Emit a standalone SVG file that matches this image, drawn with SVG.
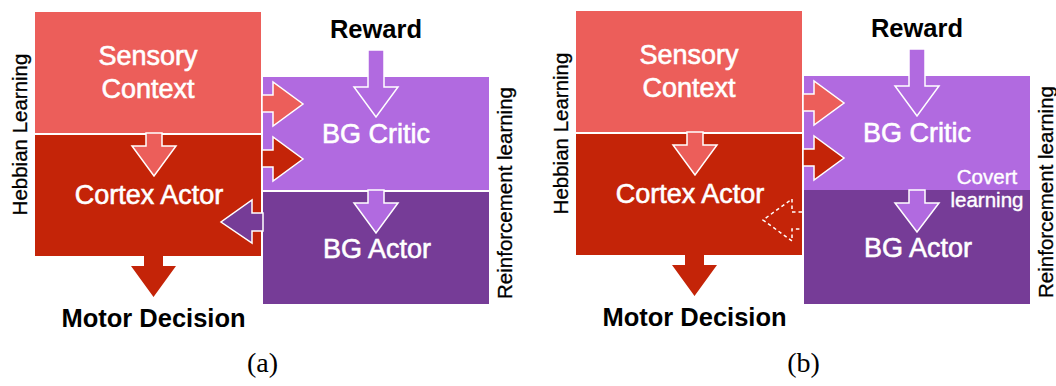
<svg xmlns="http://www.w3.org/2000/svg" width="1056" height="386" viewBox="0 0 1056 386">
<style>
.sen{fill:#EC5E5A}
.cor{fill:#C42408}
.cri{fill:#B16AE0}
.act{fill:#763C97}
.arr{stroke:#FFFFFF;stroke-width:1.5;stroke-linejoin:miter}
.dash{fill:none;stroke:#FFFFFF;stroke-width:1.5;stroke-dasharray:3.5,3}
.box{font-family:"Liberation Sans",Arial,sans-serif;font-size:27px;fill:#FFFFFF;stroke:#FFFFFF;stroke-width:0.6;text-anchor:middle}
.lbl{font-family:"Liberation Sans",Arial,sans-serif;font-size:25.5px;font-weight:bold;fill:#000000;text-anchor:middle}
.side{font-family:"Liberation Sans",Arial,sans-serif;font-size:20.5px;fill:#000000;stroke:#000000;stroke-width:0.3;text-anchor:middle}
.cov{font-family:"Liberation Sans",Arial,sans-serif;font-size:20.5px;fill:#FFFFFF;stroke:#FFFFFF;stroke-width:0.4;text-anchor:middle}
.cap{font-family:"Liberation Serif","Times New Roman",serif;font-size:28px;fill:#000000;text-anchor:middle}
</style>
<rect width="1056" height="386" fill="#FFFFFF"/>

<!-- Panel (a) -->
<g id="panel-a">
  <g id="a-sensory">
    <rect class="sen" x="35" y="12" width="226" height="121"/>
    <text class="box" x="148" y="65">Sensory</text>
    <text class="box" x="148" y="98">Context</text>
  </g>
  <g id="a-cortex">
    <rect class="cor" x="35" y="135" width="226" height="121"/>
    <text class="box" x="149" y="204">Cortex Actor</text>
  </g>
  <g id="a-critic">
    <rect class="cri" x="263" y="77" width="226" height="113"/>
    <text class="box" x="376" y="143">BG Critic</text>
  </g>
  <g id="a-actor">
    <rect class="act" x="263" y="192" width="226" height="112"/>
  </g>
  <g id="a-connectors">
    <polygon class="sen arr" points="262,95 273,95 273,82 303,104 273,126 273,112 262,112"/>
    <polygon class="cor arr" points="262,150 273,150 273,137 303,159 273,181 273,167 262,167"/>
    <polygon class="act arr" points="263,213 252,213 252,200 221,222 252,243 252,231 263,231"/>
    <polygon class="sen arr" points="146,133 146,146 132,146 154,176 176,146 162,146 162,133"/>
    <polygon class="cri arr" points="368,190 368,203 354,203 376,233 398,203 384,203 384,190"/>
    <polygon class="cri arr" points="368,50 368,87 354,87 376,117 398,87 384,87 384,50"/>
    <polygon class="cor" points="144,256 144,266 131,266 153.5,297 176,266 163,266 163,256"/>
  </g>
  <text class="box" x="377" y="258">BG Actor</text>
  <g id="a-reward"><text class="lbl" x="376" y="38">Reward</text></g>
  <g id="a-motor"><text class="lbl" x="153.5" y="327">Motor Decision</text></g>
  <text class="side" transform="translate(27,134.5) rotate(-90)">Hebbian Learning</text>
  <text class="side" transform="translate(512,193) rotate(-90)">Reinforcement learning</text>
  <text class="cap" x="262.5" y="372">(a)</text>
</g>

<!-- Panel (b) -->
<g id="panel-b" transform="translate(541,0)">
  <g id="b-sensory">
    <rect class="sen" x="35" y="11" width="226" height="121"/>
    <text class="box" x="148" y="64">Sensory</text>
    <text class="box" x="148" y="97">Context</text>
  </g>
  <g id="b-cortex">
    <rect class="cor" x="35" y="134" width="226" height="121"/>
    <text class="box" x="149" y="203">Cortex Actor</text>
  </g>
  <g id="b-critic">
    <rect class="cri" x="263" y="76" width="226" height="114"/>
    <text class="box" x="376" y="142">BG Critic</text>
  </g>
  <g id="b-actor">
    <rect class="act" x="263" y="190" width="226" height="114"/>
  </g>
  <g id="b-connectors">
    <polygon class="sen arr" points="262,94 273,94 273,81 303,103 273,125 273,111 262,111"/>
    <polygon class="cor arr" points="262,149 273,149 273,136 303,158 273,180 273,166 262,166"/>
    <polyline class="dash" points="261,212 251,212 251,199 222,220 251,241 251,229 261,229"/>
    <polygon class="sen arr" points="146,132 146,145 132,145 154,175 176,145 162,145 162,132"/>
    <polygon class="cri arr" points="368,190 368,203 354,203 376,232 398,203 384,203 384,190"/>
    <polygon class="cri arr" points="368,49 368,86 354,86 376,116 398,86 384,86 384,49"/>
    <polygon class="cor" points="144,255 144,265 131,265 153.5,296 176,265 163,265 163,255"/>
  </g>
  <text class="box" x="377" y="257">BG Actor</text>
  <text class="cov" x="446" y="184">Covert</text>
  <text class="cov" x="446" y="207">learning</text>
  <g id="b-reward"><text class="lbl" x="376" y="37">Reward</text></g>
  <g id="b-motor"><text class="lbl" x="153.5" y="326">Motor Decision</text></g>
  <text class="side" transform="translate(27,133.5) rotate(-90)">Hebbian Learning</text>
  <text class="side" transform="translate(512,192) rotate(-90)">Reinforcement learning</text>
  <text class="cap" x="262.5" y="372">(b)</text>
</g>
</svg>
